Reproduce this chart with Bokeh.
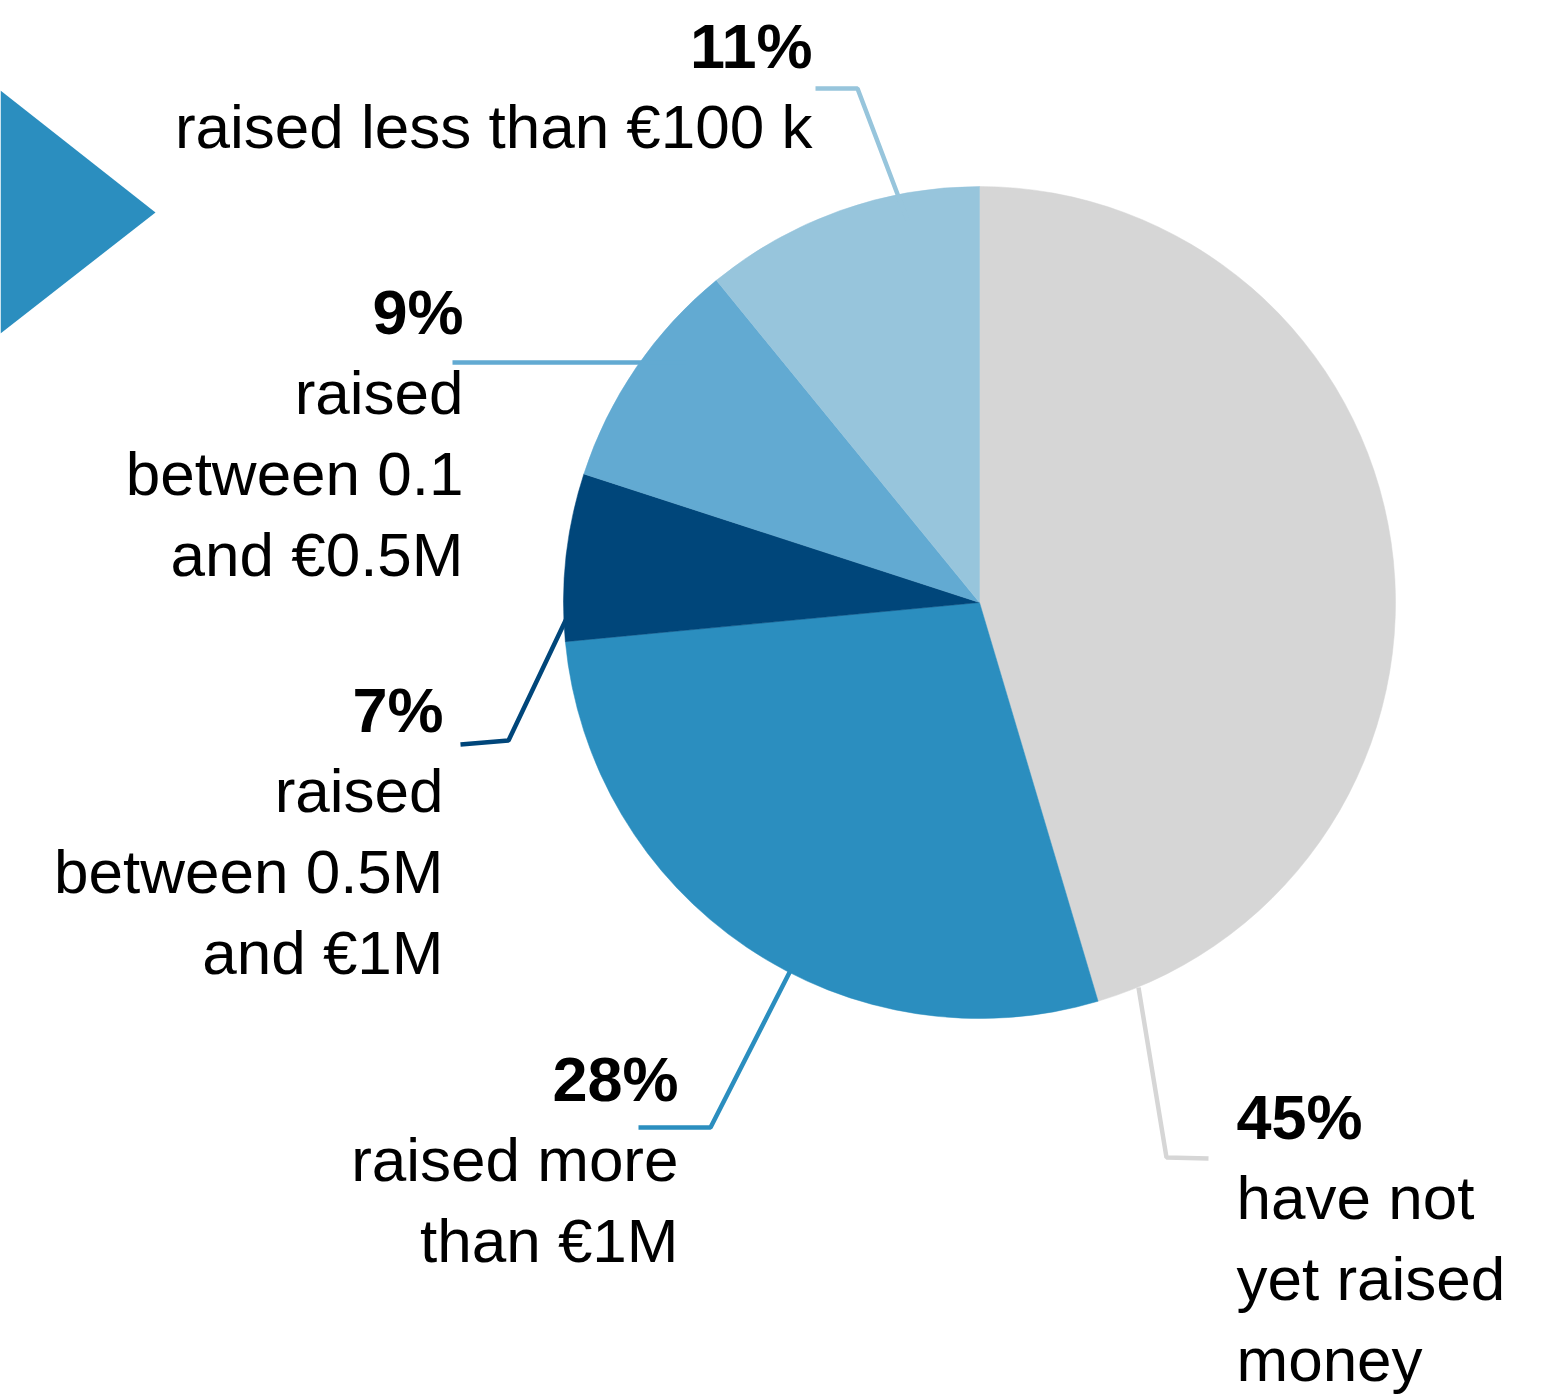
import math
from bokeh.plotting import figure
from bokeh.models import Range1d, ColumnDataSource
from bokeh.core.properties import value
from bokeh.embed import file_html
from bokeh.resources import INLINE

# ---------------- data ----------------
categories = [
    "have not yet raised money",
    "raised more than €1M",
    "raised between 0.5M and €1M",
    "raised between 0.1 and €0.5M",
    "raised less than €100 k",
]
# slice sizes
shares = [45.4, 28.1, 6.5, 9.1, 10.9]
# percentages printed on the chart
pct_labels = ["45%", "28%", "7%", "9%", "11%"]
label_lines = [
    ["have not", "yet raised", "money"],
    ["raised more", "than €1M"],
    ["raised", "between 0.5M", "and €1M"],
    ["raised", "between 0.1", "and €0.5M"],
    ["raised less than €100 k"],
]
colors = ["#d6d6d6", "#2b8ebf", "#00467a", "#62aad2", "#97c5dc"]

# ---------------- layout (page pixel coordinates) ----------------
W, H = 1558, 1395
CX, CY, R = 979, 602, 416
FONT = value("Liberation Sans")
FS = "62px"
FS_B = "63px"
LINE_STEP = 81
TEXT_DY = -22

# per category: anchor x, pct baseline, alignment
label_pos = [
    (1236, 1138, "left"),
    (678, 1100, "right"),
    (443, 731, "right"),
    (463, 333, "right"),
    (812, 67, "right"),
]
leader_paths = [
    [(1138, 987), (1166, 1157), (1208, 1158)],
    [(790, 970), (710, 1127), (638, 1127)],
    [(566, 618), (508, 740), (460, 744)],
    [(686, 362), (452, 362)],
    [(907, 220), (857, 88), (815, 88)],
]
triangle = [(0, 90), (155, 212), (0, 333)]

p = figure(width=W, height=H, output_backend="svg", toolbar_location=None,
           x_range=Range1d(0, W), y_range=Range1d(-H, 0),
           min_border=0, outline_line_color=None, background_fill_color="white",
           border_fill_color="white")
p.xaxis.visible = False
p.yaxis.visible = False
p.grid.visible = False

# triangle decoration
p.patch([t[0] for t in triangle], [-t[1] for t in triangle], fill_color="#2b8ebf", line_color=None)

# pie wedges
total = float(sum(shares))
starts, ends = [], []
cum = 0.0
for s in shares:
    starts.append(math.pi / 2 - 2 * math.pi * cum / total)
    cum += s
    ends.append(math.pi / 2 - 2 * math.pi * cum / total)
src = ColumnDataSource(dict(start=starts, end=ends, color=colors, cat=categories))
p.wedge(x=CX, y=-CY, radius=R, start_angle="start", end_angle="end", direction="clock",
        fill_color="color", line_color="color", line_width=0.5, source=src)

# leader lines
p.multi_line(xs=[[pt[0] for pt in path] for path in leader_paths],
             ys=[[-pt[1] for pt in path] for path in leader_paths],
             line_color=colors, line_width=4.5)

# labels
pct_x, pct_y, pct_t, pct_a = [], [], [], []
txt_x, txt_y, txt_t, txt_a = [], [], [], []
for pl, lines, (ax, by, al) in zip(pct_labels, label_lines, label_pos):
    pct_x.append(ax); pct_y.append(-(by + TEXT_DY)); pct_t.append(pl); pct_a.append(al)
    for i, ln in enumerate(lines):
        txt_x.append(ax); txt_y.append(-(by + TEXT_DY + LINE_STEP * (i + 1))); txt_t.append(ln); txt_a.append(al)

p.text(x="x", y="y", text="t", text_align="a",
       source=ColumnDataSource(dict(x=pct_x, y=pct_y, t=pct_t, a=pct_a)),
       text_font=FONT, text_font_size=FS_B, text_font_style="bold",
       text_baseline="alphabetic", text_color="black")
p.text(x="x", y="y", text="t", text_align="a",
       source=ColumnDataSource(dict(x=txt_x, y=txt_y, t=txt_t, a=txt_a)),
       text_font=FONT, text_font_size=FS,
       text_baseline="alphabetic", text_color="black")

open("out.html", "w").write(file_html(p, INLINE))
